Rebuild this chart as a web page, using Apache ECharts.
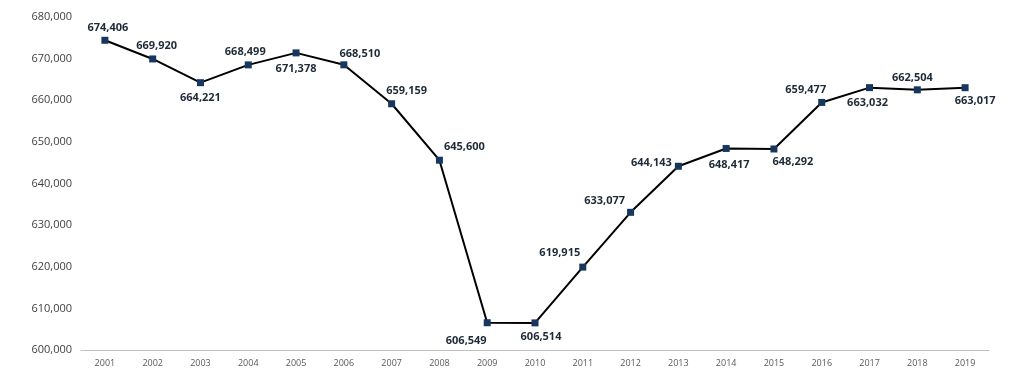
<!DOCTYPE html>
<html><head><meta charset="utf-8">
<script src="https://cdn.jsdelivr.net/npm/echarts@6/dist/echarts.min.js"></script>
<style>html,body{margin:0;padding:0;background:#fff}#c{width:1013px;height:375px}</style>
</head><body><div id="c"></div>
<script>
const years = ['2001','2002','2003','2004','2005','2006','2007','2008','2009','2010','2011','2012','2013','2014','2015','2016','2017','2018','2019'];
const values = [674406,669920,664221,668499,671378,668510,659159,645600,606549,606514,619915,633077,644143,648417,648292,659477,663032,662504,663017];

const placement = {
  '2001':['top',[3,2]], '2002':['top',[4,1]], '2003':['bottom',[0,1]], '2004':['top',[-3,1]],
  '2005':['bottom',[0,2]], '2006':['top',[16,3]], '2007':['top',[15,1]], '2008':['top',[25,1]],
  '2009':['bottom',[-21,4]], '2010':['bottom',[6,0]], '2011':['top',[-23,0]], '2012':['top',[-26,3]],
  '2013':['left',[2,-3]], '2014':['bottom',[3,2]], '2015':['bottom',[19,-1]], '2016':['top',[-16,1]],
  '2017':['bottom',[-2,1]], '2018':['top',[-5,2]], '2019':['bottom',[10,-1]]
};
const fmt = v => v.toLocaleString('en-US');
const chart = echarts.init(document.getElementById('c'));
chart.setOption({
  animation:false,
  grid:{left:81,right:24,top:17,bottom:25,containLabel:false},
  xAxis:{type:'category',data:years,boundaryGap:true,
    axisLine:{lineStyle:{color:'#bfbfbf',width:1}},axisTick:{show:false},
    axisLabel:{color:'#595959',fontSize:9,fontFamily:'Open Sans',margin:9}},
  yAxis:{type:'value',min:600000,max:680000,interval:10000,
    axisLine:{show:false},axisTick:{show:false},splitLine:{show:false},
    axisLabel:{color:'#404040',fontSize:11,fontFamily:'Open Sans',margin:9,formatter:fmt}},
  series:[{type:'line',data:values.map((v,i)=>({value:v,label:{position:placement[years[i]][0],offset:placement[years[i]][1]}})),
    symbol:'rect',symbolSize:7,
    itemStyle:{color:'#17375e'},
    lineStyle:{color:'#000',width:2},
    label:{show:true,formatter:p=>fmt(p.value),color:'#1f2a36',fontSize:11,fontWeight:'bold',fontFamily:'Open Sans',distance:5}
  }]
});
</script></body></html>
